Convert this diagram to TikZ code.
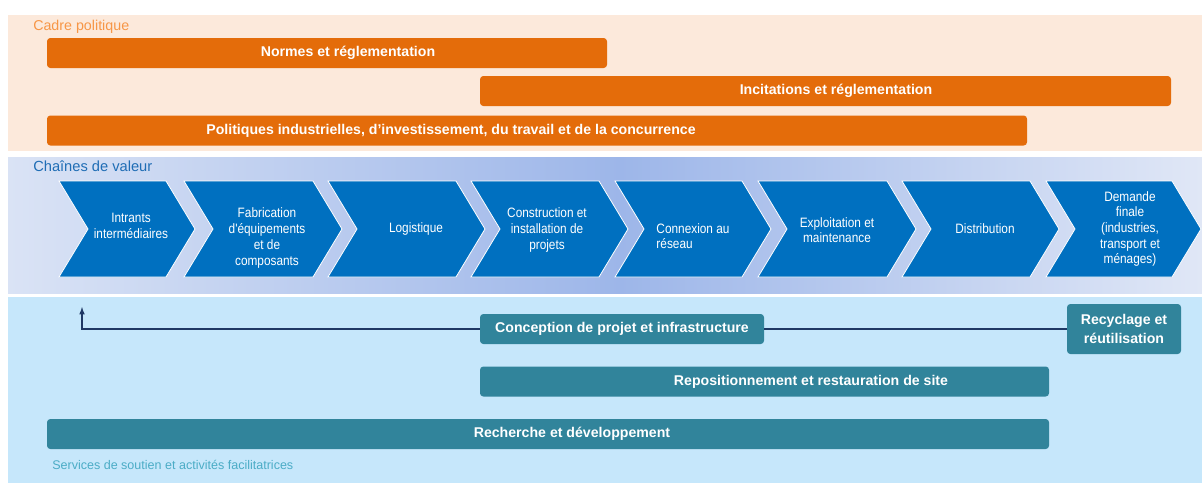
\documentclass[tikz,border=0pt]{standalone}
\usepackage{fontspec}
\setmainfont{Liberation Sans}
\newfontfamily\narrowfont[FakeStretch=0.87]{Liberation Sans}

\definecolor{orangepanel}{HTML}{FCE9DB}
\definecolor{orangebar}{HTML}{E46C0A}
\definecolor{orangetext}{HTML}{F79646}
\definecolor{bluelight}{HTML}{DAE3F5}
\definecolor{bluemid}{HTML}{9DB6E9}
\definecolor{blueend}{HTML}{E0E7F6}
\definecolor{bluetext}{HTML}{1F6DB5}
\definecolor{chevblue}{HTML}{0070C0}
\definecolor{lowpanel}{HTML}{C6E7FB}
\definecolor{tealbar}{HTML}{31849B}
\definecolor{tealtext}{HTML}{4BACC6}
\definecolor{navyline}{HTML}{1F3864}

\tikzset{
    barw/.style={minimum width=#1*0.75pt},
    barh/.style={minimum height=#1*0.75pt},
    bar/.style={rectangle, rounded corners=2.5pt, inner sep=0pt, barh=30},
    obar/.style={bar, fill=orangebar},
    tbar/.style={bar, fill=tealbar},
    btxt/.style={text=white, font=\bfseries\fontsize{10.6}{14}\selectfont, inner sep=0pt},
    chevron/.style={fill=chevblue, draw=white, line width=0.6pt, line join=miter},
    chevtxt/.style={text=white, font=\narrowfont\fontsize{10.2}{11.8}\selectfont, inner sep=0pt},
    paneltitle/.style={anchor=west, inner sep=0pt, font=\fontsize{10.7}{12}\selectfont},
}

\begin{document}
\begin{tikzpicture}[
        x=0.75pt, y=-0.75pt, >=latex,
    ]

    \useasboundingbox (0,0) rectangle (1202,483);

    % the three bands
    \fill[orangepanel] (8,15) rectangle (1202,151);
    \shade[left color=bluelight, right color=bluemid] (8,157) rectangle (620,293);
    \shade[left color=bluemid, right color=blueend] (619.5,157) rectangle (1202,293);
    \fill[lowpanel] (8,297) rectangle (1202,483);

    \node[paneltitle, text=orangetext] (cadre) at (33,27) {Cadre politique};
    \node[paneltitle, text=bluetext, font=\fontsize{11}{12}\selectfont] (chaines) at (33,166) {Chaînes de valeur};
    \node[paneltitle, text=tealtext, font=\fontsize{9.4}{10}\selectfont]
        (services) at (52,465) {Services de soutien et activités facilitatrices};

    % policy bars
    \foreach \n/\cx/\cy/\w/\tx/\txt in {
            normes/327/53/560/348/{Normes et réglementation},
            incitations/825.5/91/691/836/{Incitations et réglementation},
            politiques/537/130.5/980/451/{Politiques industrielles, d'investissement, du travail et de la concurrence}}
    {
        \node[obar, barw=\w] (\n) at (\cx,\cy) {};
        \node[btxt] (\n-t) at (\tx,\cy) {\txt};
    }

    % value chain
    \foreach \l/\t/\tx/\ty/\al/\n/\txt in {
            59/195/131/226/center/intrants/{Intrants\\intermédiaires},
            184/342/267/238/center/fabrication/{Fabrication\\d'équipements\\et de\\composants},
            328/485/416/229/center/logistique/{Logistique},
            471/628/547/230/center/construction/{Construction et\\installation de\\projets},
            615/771/693/236/left/connexion/{Connexion au\\réseau},
            758/916/837/230/center/exploitation/{Exploitation et\\maintenance},
            902/1059/985/229/center/distribution/{Distribution},
            1046/1201/1130/229/center/demande/{Demande\\finale\\(industries,\\transport et\\ménages)}}
    {
        \filldraw[chevron] (\l,181) -- (\t-29,181) -- (\t,229) -- (\t-29,277)
            -- (\l,277) -- (\l+29,229) -- cycle;
        \node[chevtxt, align=\al] (\n) at (\tx,\ty) {\txt};
    }

    % support services
    \node[tbar, barw=284, btxt] (conception) at (622,329) {Conception de projet et infrastructure};
    \node[tbar, barw=114, barh=50, btxt, align=center] (recyclage) at (1124,329)
        {Recyclage et\\réutilisation};
    \foreach \n/\cx/\cy/\w/\tx/\txt in {
            repositionnement/764.5/381.5/569/811/{Repositionnement et restauration de site},
            recherche/548/434/1002/572/{Recherche et développement}}
    {
        \node[tbar, barw=\w] (\n) at (\cx,\cy) {};
        \node[btxt] (\n-t) at (\tx,\cy) {\txt};
    }

    \coordinate (retour) at (82,307);
    \draw[navyline, line width=0.9pt] (recyclage.west) -- (conception.east);
    \draw[navyline, line width=0.9pt, ->] (conception.west) -| (retour);

\end{tikzpicture}
\end{document}
